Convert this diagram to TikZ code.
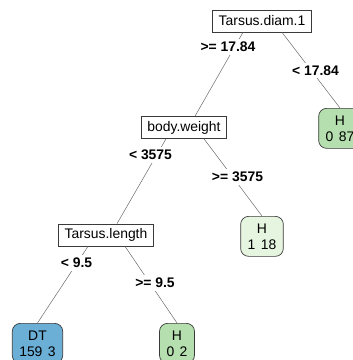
\documentclass[tikz,border=0pt]{standalone}
\usepackage{fontspec}
\setmainfont{Liberation Sans}
\usetikzlibrary{calc}
\definecolor{edgegray}{HTML}{6A6A6A}
\definecolor{boxgray}{HTML}{3A3A3A}
\definecolor{dtblue}{HTML}{6BAED6}
\definecolor{hgreen}{HTML}{B5DFAE}
\definecolor{hgreenlight}{HTML}{E6F5E0}
\tikzset{
  x=1pt, y=-1pt,
  every node/.style={font=\fontsize{13.9}{16}\selectfont},
  splitbox/.style={draw=boxgray, line width=0.7pt, fill=white, rectangle,
    inner xsep=6pt, inner ysep=0pt, minimum height=22pt},
  leafbox/.style={draw=boxgray, line width=0.7pt, rectangle, rounded corners=8pt,
    align=center, inner xsep=7pt, inner ysep=5pt, minimum height=40pt, anchor=north},
  edge/.style={draw=edgegray, line width=0.5pt},
  elabel/.style={fill=white, inner xsep=1pt, inner ysep=3pt,
    font=\fontsize{13.9}{16}\selectfont\bfseries}
}
\newcommand{\cnt}[2]{#1\hspace{5.5pt}#2}
\begin{document}
\begin{tikzpicture}
\useasboundingbox (0,0) rectangle (353,360);
% split nodes
\node[splitbox] (td) at (262,21) {Tarsus.diam.1};
\node[splitbox] (bw) at (184,127.5) {body.weight};
\node[splitbox] (tl) at (106,235) {Tarsus.length};
% leaves
\node[leafbox, fill=hgreen] (l087) at (340,108) {H\\\cnt{0}{87}};
\node[leafbox, fill=hgreenlight] (l118) at (262,216) {H\\\cnt{1}{18}};
\node[leafbox, fill=dtblue] (ldt) at (37.5,323) {DT\\\cnt{159}{3}};
\node[leafbox, fill=hgreen] (l02) at (177,323) {H\\\cnt{0}{2}};
% edges
\draw[edge] ($(td.south)+(-19,0)$) -- ($(bw.north)+(11,0)$);
\draw[edge] ($(td.south)+(20,0)$) -- (l087.north);
\draw[edge] ($(bw.south)+(-18,0)$) -- ($(tl.north)+(11,0)$);
\draw[edge] ($(bw.south)+(20,0)$) -- (l118.north);
\draw[edge] ($(tl.south)+(-18,0)$) -- (ldt.north);
\draw[edge] ($(tl.south)+(19,0)$) -- (l02.north);
% edge labels
\node[elabel] (e1) at (228,47) {>= 17.84};
\node[elabel] (e2) at (315.5,70.5) {< 17.84};
\node[elabel] (e3) at (150.5,155) {< 3575};
\node[elabel] (e4) at (237.5,177) {>= 3575};
\node[elabel] (e5) at (76.5,263) {< 9.5};
\node[elabel] (e6) at (155,283) {>= 9.5};
\end{tikzpicture}
\end{document}
